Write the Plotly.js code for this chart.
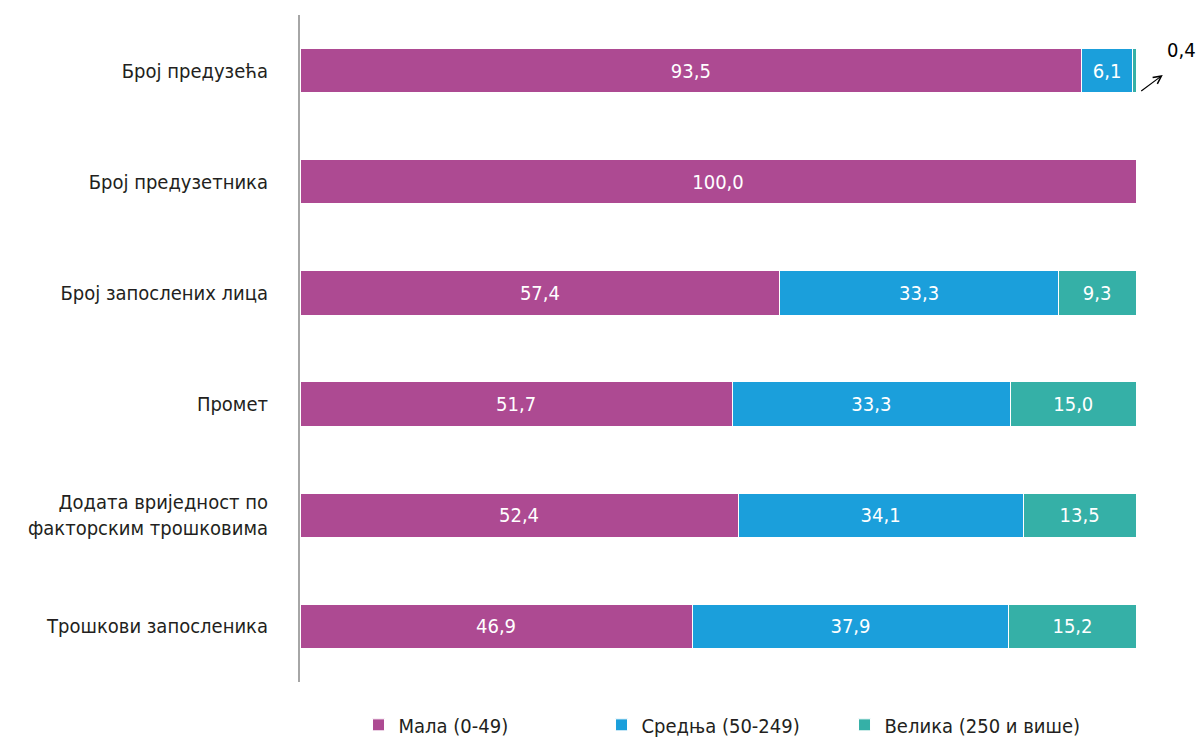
<!DOCTYPE html>
<html><head><meta charset="utf-8">
<script src="https://cdn.plot.ly/plotly-3.0.1.min.js"></script>
<style>html,body{margin:0;padding:0;background:#fff}#c{width:1198px;height:739px}</style>
</head><body><div id="c"></div>
<script>
const categories = ["Број предузећа","Број предузетника","Број запослених лица","Промет","Додата вриједност по<br>факторским трошковима","Трошкови запосленика"];
const seriesNames = ["Мала (0-49)","Средња (50-249)","Велика (250 и више)"];
const mala = [93.5, 100.0, 57.4, 51.7, 52.4, 46.9];
const srednja = [6.1, 0, 33.3, 33.3, 34.1, 37.9];
const velika = [0.4, 0, 9.3, 15.0, 13.5, 15.2];
const colors = ["#ad4a92","#1b9fdb","#35b0a7"];
const FONT = "'Liberation Sans Narrow','DejaVu Sans Condensed','Roboto Condensed','DejaVu Sans',sans-serif";

function lbl(arr, hideSmall){return arr.map(v => (v===0 || (hideSmall && v<1)) ? "" : v.toFixed(1).replace('.',','));}

const series = [mala, srednja, velika];
const traces = series.map((vals,i)=>({
  type:'bar', orientation:'h', name:seriesNames[i],
  y:categories, x:vals,
  marker:{color:colors[i], line:{color:'#ffffff', width:1}},
  text:lbl(vals,true), textposition:'inside', insidetextanchor:'middle',
  textfont:{color:'#ffffff', size:20, family:FONT},
  hoverinfo:'x+name'
}));

const layout = {
  width:1198, height:739,
  margin:{l:300, r:62, t:15, b:57, autoexpand:false},
  barmode:'stack', bargap:0.6,
  paper_bgcolor:'#ffffff', plot_bgcolor:'#ffffff',
  font:{family:FONT, size:20, color:'#231f20'},
  xaxis:{range:[0,100], visible:false, fixedrange:true},
  yaxis:{autorange:'reversed', showline:true, linecolor:'#a6a6a6', linewidth:2,
         showgrid:false, zeroline:false, ticks:'', ticklabelstandoff:26,
         tickfont:{size:20, color:'#231f20', family:FONT}},
  showlegend:true,
  legend:{orientation:'h', x:0.07, xanchor:'left', y:-0.035, yanchor:'top',
          entrywidth:198, entrywidthmode:'pixels', itemclick:false,
          font:{size:20, color:'#231f20', family:FONT}, traceorder:'normal'},
  annotations:[
    {xref:'paper', yref:'paper', x:1.032, y:0.91, ax:-23, ay:17, axref:'pixel', ayref:'pixel',
     text:'', showarrow:true, arrowhead:5, arrowsize:1.3, arrowwidth:1.2, arrowcolor:'#000000'},
    {xref:'paper', yref:'paper', x:1.035, y:0.947, xanchor:'left', yanchor:'middle',
     text:lbl([velika[0]],false)[0], showarrow:false, font:{size:20, color:'#000000', family:FONT}}
  ]
};
Plotly.newPlot('c', traces, layout, {displayModeBar:false, staticPlot:true});
</script></body></html>
